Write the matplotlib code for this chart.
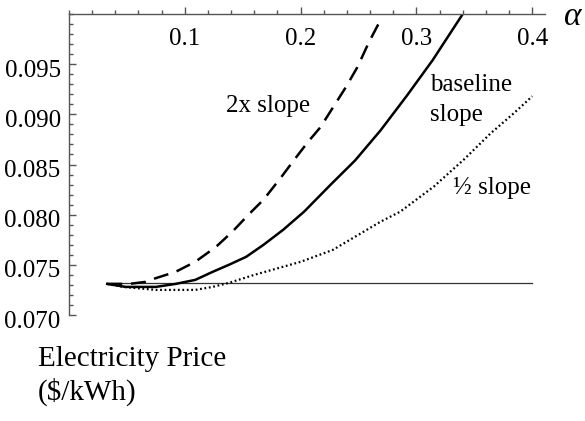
import matplotlib
matplotlib.use("Agg")
import matplotlib.pyplot as plt
from matplotlib.ticker import MultipleLocator, FixedLocator
from matplotlib.transforms import ScaledTranslation

plt.rcParams['font.family'] = ['Liberation Serif', 'DejaVu Serif']

# data (alpha, electricity price $/kWh)
alpha_2x = [0.033, 0.052, 0.066, 0.073, 0.092, 0.109, 0.127, 0.141, 0.155, 0.168,
            0.183, 0.194, 0.206, 0.217, 0.228, 0.239, 0.249, 0.259, 0.269]
price_2x = [0.0731, 0.0731, 0.0733, 0.0736, 0.0743, 0.0753, 0.0768, 0.0783, 0.0800, 0.0815,
            0.0837, 0.0854, 0.0872, 0.0887, 0.0907, 0.0927, 0.0947, 0.0972, 0.0994]

alpha_base = [0.033, 0.049, 0.075, 0.092, 0.109, 0.124, 0.138, 0.153, 0.168, 0.185,
              0.203, 0.226, 0.247, 0.269, 0.292, 0.314, 0.340]
price_base = [0.0731, 0.0728, 0.0728, 0.0731, 0.0735, 0.0743, 0.0750, 0.0758, 0.0770, 0.0785,
              0.0803, 0.0830, 0.0854, 0.0884, 0.0919, 0.0954, 0.1000]

alpha_half = [0.033, 0.047, 0.075, 0.109, 0.124, 0.138, 0.160, 0.200, 0.228, 0.269,
              0.286, 0.315, 0.341, 0.364, 0.384, 0.400]
price_half = [0.0731, 0.0728, 0.0725, 0.0725, 0.0728, 0.0732, 0.0740, 0.0753, 0.0765, 0.0793,
              0.0803, 0.0828, 0.0855, 0.0881, 0.0901, 0.0918]

flat_alpha = [0.033, 0.400]
flat_price = [0.0732, 0.0732]

x_major = [0.1, 0.2, 0.3, 0.4]
y_major = [0.070, 0.075, 0.080, 0.085, 0.090, 0.095]

fig = plt.figure(figsize=(5.85, 4.21), dpi=100)
ax = fig.add_axes([69/585, 106/421, 476/585, 301/421])
ax.set_xlim(0, 0.411)
ax.set_ylim(0.070, 0.100)

ax.plot(flat_alpha, flat_price, color='#333333', lw=0.9)
ax.plot(alpha_2x, price_2x, color='black', lw=1.8, dashes=(6, 3.5))
ax.plot(alpha_base, price_base, color='black', lw=1.8)
ax.plot(alpha_half, price_half, color='black', lw=1.6, dashes=(0.8, 1.2))

for s in ['right', 'bottom']:
    ax.spines[s].set_visible(False)
for s in ['top', 'left']:
    ax.spines[s].set_color('#555555')
    ax.spines[s].set_linewidth(1.0)

ax.xaxis.tick_top()
ax.xaxis.set_major_locator(FixedLocator(x_major))
ax.xaxis.set_minor_locator(MultipleLocator(0.02))
ax.set_xticklabels([f'{v:.1f}' for v in x_major])
ax.tick_params(axis='x', which='major', direction='out', length=5, width=1,
               color='#555555', labelsize=18, pad=-31)
ax.tick_params(axis='x', which='minor', direction='out', length=3, width=1, color='#555555')

ax.yaxis.set_major_locator(FixedLocator(y_major))
ax.yaxis.set_minor_locator(MultipleLocator(0.001))
ax.set_yticklabels([f'{v:.3f}' for v in y_major])
ax.tick_params(axis='y', which='major', direction='in', length=5, width=1,
               color='#555555', labelsize=18, pad=6)
ax.tick_params(axis='y', which='minor', direction='in', length=3, width=1, color='#555555')
shift = ScaledTranslation(0, -4/100, fig.dpi_scale_trans)
for lbl in ax.get_yticklabels():
    lbl.set_transform(lbl.get_transform() + shift)

ax.text(226/585, 1 - 106/421, '2x slope', transform=fig.transFigure, fontsize=18,
        ha='left', va='center')
ax.text(430/585, 1 - 85/421, 'baseline', transform=fig.transFigure, fontsize=18,
        ha='left', va='center')
ax.text(430/585, 1 - 115/421, 'slope', transform=fig.transFigure, fontsize=18,
        ha='left', va='center')
ax.text(453/585, 1 - 188/421, '\u00bd slope', transform=fig.transFigure, fontsize=18,
        ha='left', va='center')

fig.text(573/585, 1 - 17/421, '\u03b1', fontsize=24, style='italic', ha='center', va='center')
fig.text(38/585, 1 - 359/421, 'Electricity Price', fontsize=21, ha='left', va='center')
fig.text(38/585, 1 - 392/421, '($/kWh)', fontsize=21, ha='left', va='center')

fig.savefig('out.png', dpi=100)
